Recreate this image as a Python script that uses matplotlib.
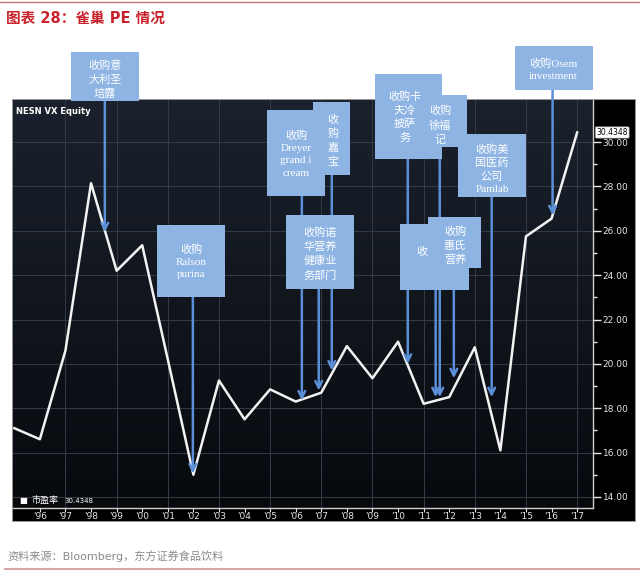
import matplotlib
matplotlib.use('Agg')
import matplotlib.pyplot as plt
import numpy as np
from matplotlib.patches import Rectangle
from matplotlib.colors import LinearSegmentedColormap

plt.rcParams['font.family'] = ['DejaVu Sans', 'Noto Sans CJK SC']

# PE series, one point a year
years = list(range(1995, 2018))
pe = [17.1, 16.6, 20.6, 28.15, 24.2, 25.35, 20.2, 15.0, 19.25, 17.5, 18.85,
      18.3, 18.7, 20.8, 19.35, 21.0, 18.2, 18.5, 20.75, 16.1, 25.75, 26.55, 30.4348]
tick_years = list(range(1996, 2018))
tick_labels = ["'%02d" % (y % 100) for y in tick_years]
y_ticks = [14, 16, 18, 20, 22, 24, 26, 28, 30]

# acquisitions: label, arrow tip (year, PE)
anno_text = ['收购意\n大利圣\n培露', '收购\nRalson\npurina', '收购\nDreyer\ngrand i\ncream',
             '收\n购\n嘉\n宝', '收购诺\n华营养\n健康业\n务部门', '收购卡\n夫冷\n披萨\n务',
             '收购\n徐福\n记', '收购美\n国医药\n公司\nPamlab', '收购Osem\ninvestment',
             '', '收购\n惠氏\n营养']
anno_year = [1998.54, 2001.98, 2006.24, 2007.41, 2006.9, 2010.38, 2011.63, 2013.66,
             2016.04, 2011.47, 2012.18]
anno_pe = [25.94, 15.06, 18.35, 19.7, 18.8, 20.0, 18.5, 18.5, 26.7, 18.5, 19.35]

# box layout in pixels from top-left: x0, y0, x1, y1, text centre x, text centre y
box_px = [(71, 52, 139, 101, 105, 80), (157, 225, 225, 297, 191, 262),
          (267, 110, 325, 196, 296, 154), (313, 102, 350, 175, 333, 141),
          (286, 215, 354, 289, 320, 254), (375, 74, 442, 159, 405, 117),
          (423, 95, 467, 147, 440, 125), (458, 134, 526, 197, 492, 169),
          (515, 46, 593, 90, 553, 70), (400, 224, 469, 290, 422, 252),
          (428, 217, 481, 268, 455, 246)]

W, H = 640, 576
def fx(x):
    return x / W
def fy(y):
    return 1 - y / H

fig = plt.figure(figsize=(6.4, 5.76), dpi=100)
fig.patch.set_facecolor('white')

# black terminal panel
fig.patches.append(Rectangle((fx(12), fy(521)), fx(635) - fx(12), fy(99) - fy(521),
                             transform=fig.transFigure, facecolor='black',
                             edgecolor='#9a9a9a', lw=0.6, zorder=-1))

ax = fig.add_axes([fx(13), fy(508), fx(593) - fx(13), fy(100) - fy(508)])
ax.set_xlim(1994.95, 2017.62)
ax.set_ylim(13.5, 31.9)

cmap = LinearSegmentedColormap.from_list('bg', ['#07090d', '#1b222d'])
grad = np.linspace(0, 1, 256).reshape(-1, 1)
ax.imshow(grad, extent=[0, 1, 0, 1], transform=ax.transAxes, aspect='auto',
          cmap=cmap, origin='lower', zorder=0)
ax.set_facecolor('#111722')

for v in y_ticks:
    ax.axhline(v, color='#353c47', lw=0.7, zorder=1)
for y in range(1997, 2018, 2):
    ax.axvline(y, color='#353c47', lw=0.7, zorder=1)

ax.plot(years, pe, color='#f2f2f2', lw=1.8, zorder=2)

for sp in ['top', 'left']:
    ax.spines[sp].set_visible(False)
for sp in ['bottom', 'right']:
    ax.spines[sp].set_color('#cfcfcf')
    ax.spines[sp].set_linewidth(1.0)

ax.yaxis.tick_right()
ax.set_yticks(y_ticks)
ax.set_yticklabels(['%.2f' % v for v in y_ticks])
ax.set_yticks(np.arange(15, 31, 2), minor=True)
ax.tick_params(axis='y', which='major', direction='out', length=6, width=1,
               colors='#e6e6e6', labelsize=6.5, pad=1)
ax.tick_params(axis='y', which='minor', direction='out', length=3, width=1,
               colors='#e6e6e6')
ax.set_xticks(tick_years)
ax.set_xticklabels(tick_labels)
ax.tick_params(axis='x', direction='out', length=3, width=0.8, colors='#e6e6e6',
               labelsize=6.5, pad=0)

# last value tag on the right axis
ax.text(1.006, pe[-1], '%.4f' % pe[-1], transform=ax.get_yaxis_transform(),
        ha='left', va='center', fontsize=5.5, color='black',
        bbox=dict(boxstyle='round,pad=0.15', fc='white', ec='#999999', lw=0.5))

# arrows (drawn under the boxes, which are figure level)
for i in range(len(anno_year)):
    ax.annotate('', xy=(anno_year[i], anno_pe[i]), xycoords='data',
                xytext=(anno_year[i], fy(box_px[i][3])),
                textcoords=('data', 'figure fraction'),
                arrowprops=dict(arrowstyle='->', color='#5b8fd8', lw=1.8,
                                shrinkA=0, shrinkB=0, mutation_scale=12),
                annotation_clip=False, zorder=4)

box_font = ['Liberation Serif', 'Noto Sans CJK SC']
for i in range(len(anno_text)):
    x0, y0, x1, y1, cx, cy = box_px[i]
    z = 5 + i * 0.1
    fig.patches.append(Rectangle((fx(x0), fy(y1)), fx(x1) - fx(x0), fy(y0) - fy(y1),
                                 transform=fig.transFigure, facecolor='#8db4e3',
                                 edgecolor='none', zorder=z))
    if anno_text[i]:
        fig.text(fx(cx), fy(cy), anno_text[i], ha='center', va='center',
                 color='white', fontsize=8, family=box_font, linespacing=1.45,
                 zorder=z + 0.05)
    else:
        fig.text(fx(cx), fy(cy), '收', ha='center', va='center', color='white',
                 fontsize=8, family=box_font, zorder=z + 0.05)
        fig.text(fx(434), fy(269), '一', ha='center', va='center', color='white',
                 fontsize=6, family=box_font, zorder=z + 0.05)

fig.text(fx(16), fy(112), 'NESN VX Equity', color='white', fontsize=6,
         fontweight='bold', ha='left', va='center')
fig.text(fx(19), fy(500), '■', color='white', fontsize=6, ha='left', va='center')
fig.text(fx(32), fy(500), '市盈率', color='white', fontsize=6.5, ha='left', va='center')
fig.text(fx(64), fy(501), '%.4f' % pe[-1], color='white', fontsize=5, ha='left', va='center')

fig.text(fx(6), fy(18), '图表 28：雀巢 PE 情况', color='#c8232c', fontsize=10.5,
         fontweight='bold', ha='left', va='center')
fig.text(fx(7), fy(556), '资料来源：Bloomberg，东方证券食品饮料', color='#8a8a8a',
         fontsize=8, ha='left', va='center')
fig.add_artist(plt.Line2D([0, 1], [fy(1.5), fy(1.5)], transform=fig.transFigure,
                          color='#b87a74', lw=1.0))
fig.add_artist(plt.Line2D([fx(5), 1], [fy(569), fy(569)], transform=fig.transFigure,
                          color='#d4a8a6', lw=1.5))

fig.savefig('out.png', dpi=100, facecolor='white')
